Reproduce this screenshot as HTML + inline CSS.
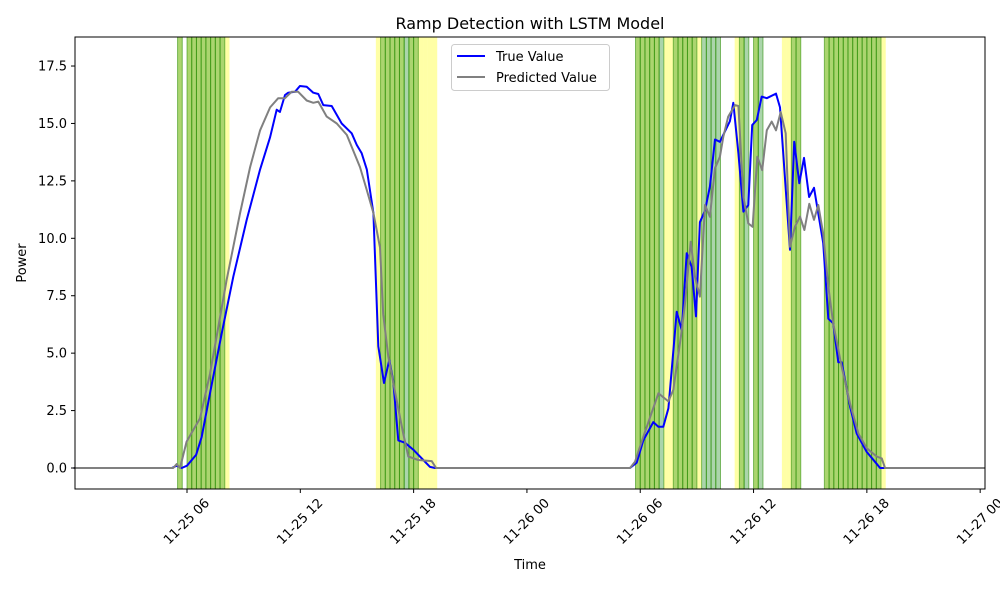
<!DOCTYPE html>
<html><head><meta charset="utf-8"><style>
html,body{margin:0;padding:0;background:#fff;}
svg{display:block;font-family:"DejaVu Sans","Liberation Sans",sans-serif;}
</style></head><body>
<svg id="chart" width="1000" height="600" viewBox="0 0 1000 600" xmlns="http://www.w3.org/2000/svg">
<rect x="0" y="0" width="1000" height="600" fill="#fff"/>
<text x="530" y="29" font-size="16" text-anchor="middle" fill="#000">Ramp Detection with LSTM Model</text>
<g id="bands"></g>
<g id="lines"></g>
<g id="axes"></g>
<rect x="75" y="37" width="910" height="452" fill="none" stroke="#000" stroke-width="1"/>
<g>
<rect x="451.5" y="44.5" width="158" height="46" rx="3" fill="#fff" fill-opacity="0.8" stroke="#ccc"/>
<g>
<line x1="457" y1="56" x2="485" y2="56" stroke="#0000ff" stroke-width="2"/>
<text x="496" y="61" font-size="13" fill="#000">True Value</text>
</g>
<g>
<line x1="457" y1="77" x2="485" y2="77" stroke="#808080" stroke-width="2"/>
<text x="496" y="82" font-size="13" fill="#000">Predicted Value</text>
</g>
</g>
<text x="530" y="569" font-size="13" text-anchor="middle">Time</text>
<text x="0" y="0" font-size="13" text-anchor="middle" transform="translate(26,263) rotate(-90)">Power</text>
</svg>
<script>
// hours since 11-25 00:00
const trueTimes = [0,5.2,5.45,5.72,6.0,6.48,6.78,7.22,7.84,8.45,9.16,9.87,10.40,10.75,10.92,11.19,11.36,11.72,11.98,12.34,12.69,12.95,13.22,13.66,14.19,14.72,14.99,15.25,15.52,15.87,16.13,16.43,16.71,16.92,17.19,17.54,17.98,18.51,18.87,19.13,
 29.46,29.81,30.16,30.69,30.96,31.22,31.49,31.93,32.20,32.46,32.72,32.95,33.16,33.43,33.69,33.96,34.22,34.75,34.93,35.20,35.46,35.72,35.93,36.17,36.43,36.70,37.19,37.40,37.93,38.15,38.42,38.67,38.94,39.20,39.69,39.96,40.22,40.49,40.67,41.11,41.46,41.99,42.43,42.70,43.05,48.25];
const trueValues = [0,0,0.1,0,0.1,0.57,1.36,3.25,5.86,8.33,10.8,13.0,14.4,15.6,15.5,16.24,16.34,16.38,16.63,16.6,16.34,16.28,15.8,15.76,15.0,14.57,14.06,13.7,13.0,11.1,5.3,3.7,4.7,3.8,1.2,1.1,0.8,0.35,0.05,0,
 0,0.23,1.2,2.0,1.8,1.8,2.6,6.8,6.0,9.35,8.76,6.6,10.7,11.2,12.25,14.3,14.2,15.1,15.9,13.7,11.16,11.45,14.93,15.15,16.17,16.1,16.3,15.7,9.5,14.2,12.4,13.5,11.8,12.2,9.8,6.5,6.3,4.6,4.6,2.67,1.5,0.7,0.27,0,0,0];
const predTimes = [0,5.27,5.45,5.63,5.98,6.33,6.69,7.22,8.10,8.81,9.34,9.87,10.40,10.83,11.19,11.54,11.89,12.34,12.69,12.95,13.40,13.93,14.46,15.16,15.52,15.87,16.22,16.39,16.66,17.10,17.45,17.72,18.25,18.96,19.19,
 29.46,29.72,30.16,30.96,31.49,31.75,32.20,32.37,32.67,32.90,33.16,33.43,33.69,33.96,34.22,34.40,34.66,35.02,35.20,35.46,35.72,35.95,36.20,36.46,36.70,36.96,37.19,37.44,37.70,37.93,38.19,38.46,38.69,38.95,39.20,39.43,39.69,39.96,40.22,40.67,41.11,41.55,41.99,42.52,42.79,42.96,48.25];
const predValues = [0,0,0.17,0,1.15,1.65,2.16,4.1,8.2,11.1,13.1,14.7,15.7,16.1,16.1,16.38,16.38,16.0,15.9,15.95,15.3,15.0,14.5,13.1,12.1,11.1,9.6,6.7,4.85,2.96,1.5,0.5,0.35,0.3,0,
 0,0.27,1.36,3.25,2.9,3.4,6.0,7.17,9.85,8.33,7.46,11.45,10.94,13.05,13.55,14.42,15.3,15.8,15.76,11.8,10.65,10.5,13.55,12.97,14.7,15.08,14.7,15.5,14.57,9.63,10.5,10.94,10.36,11.5,10.8,11.45,10.2,7.9,6.3,4.4,2.8,1.5,0.86,0.5,0.42,0,0];
// 15-minute ramp interval start hours
const trueRampStarts = [5.5,6.0,6.25,6.5,6.75,7.0,7.25,7.5,7.75,8.0,
 16.0,16.25,16.5,16.75,17.0,17.25,17.75,18.0,18.25,18.5,18.75,19.0,
 29.75,30.0,30.25,30.5,30.75,31.25,31.5,31.75,32.0,32.25,32.5,32.75,33.0,
 35.0,35.25,36.0,37.5,37.75,38.0,38.25,
 39.75,40.0,40.25,40.5,40.75,41.0,41.25,41.5,41.75,42.0,42.25,42.5,42.75];
const predRampStarts = [5.5,6.0,6.25,6.5,6.75,7.0,7.25,7.5,7.75,
 16.25,16.5,16.75,17.0,17.25,17.5,17.75,18.0,
 29.75,30.0,30.25,30.5,30.75,31.0,31.75,32.0,32.25,32.5,32.75,33.25,33.5,33.75,34.0,
 35.25,35.5,36.0,36.25,38.0,38.25,
 39.75,40.0,40.25,40.5,40.75,41.0,41.25,41.5,41.75,42.0,42.25,42.5];
const yTicks = [0,2.5,5,7.5,10,12.5,15,17.5];
const xTickHours = [6,12,18,24,30,36,42,48];
const xTickLabels = ["11-25 06","11-25 12","11-25 18","11-26 00","11-26 06","11-26 12","11-26 18","11-27 00"];

const X = h => 187 + (h - 6) * 18.885;
const Y = v => 468 - v * 22.97;
const NS = "http://www.w3.org/2000/svg";
function mk(tag, attrs, parent){const e=document.createElementNS(NS,tag);for(const k in attrs)e.setAttribute(k,attrs[k]);parent.appendChild(e);return e;}
const bands=document.getElementById('bands'), lines=document.getElementById('lines'), axes=document.getElementById('axes');
trueRampStarts.forEach(h=>{
 const r=mk('rect',{x:X(h),y:37,width:X(h+0.25)-X(h),height:452,fill:'rgba(255,255,0,0.35)'},bands);
 
 
});
predRampStarts.forEach(h=>{
 const r=mk('rect',{x:X(h),y:37,width:X(h+0.25)-X(h),height:452,fill:'rgba(0,128,0,0.33)',stroke:'rgba(40,140,0,0.55)','stroke-width':1},bands);
 
 
});
function path(ts,vs){return ts.map((t,i)=>(i?'L':'M')+X(t).toFixed(1)+','+Y(vs[i]).toFixed(1)).join('');}
const pl=mk('path',{d:path(trueTimes,trueValues),fill:'none',stroke:'#0000ff','stroke-width':2,'stroke-linejoin':'round'},lines);


const pp=mk('path',{d:path(predTimes,predValues),fill:'none',stroke:'#808080','stroke-width':2,'stroke-linejoin':'round'},lines);


yTicks.forEach(v=>{
 const y=Y(v);
 const t=mk('line',{x1:71,y1:y,x2:75,y2:y,stroke:'#000'},axes);
 
 
 const l=mk('text',{x:67,y:y+4.5,'font-size':13,'text-anchor':'end'},axes);
 l.textContent=v.toFixed(1);
 
 
});
xTickHours.forEach((h,i)=>{
 const x=X(h);
 const t=mk('line',{x1:x,y1:489,x2:x,y2:493,stroke:'#000'},axes);
 
 
 const l=mk('text',{x:0,y:0,'font-size':13,'text-anchor':'middle','dominant-baseline':'central'},axes);
 l.textContent=xTickLabels[i];
 
 
 let len=55; try{len=l.getComputedTextLength()||55;}catch(e){}
 const w=(len+12)*0.7071;
 l.setAttribute('transform',`translate(${x},${497+w/2}) rotate(-45)`);
});
</script>
</body></html>
